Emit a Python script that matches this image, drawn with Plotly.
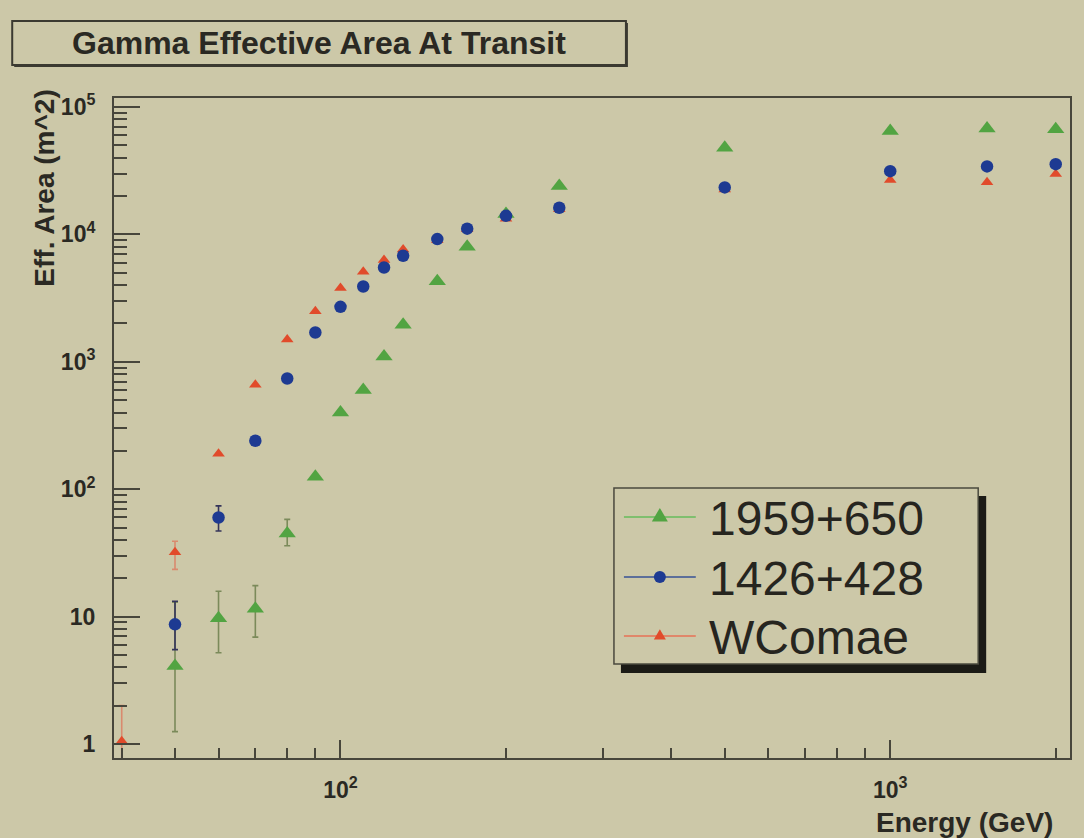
import plotly.graph_objects as go

# ---------------- data ----------------
# 1959+650 (green triangles)
energy_1959 = [50, 60, 70, 80, 90, 100, 110, 120, 130, 150, 170, 200, 250, 500, 1000, 1500, 2000]
area_1959 = [4.1, 9.7, 11.5, 45, 125, 400, 600, 1100, 1950, 4300, 8000, 14500, 24000, 48000, 65000, 68000, 67000]
hi_1959 = [13.0, 15.8, 17.5, 58, None, None, None, None, None, None, None, None, None, None, None, None, None]
lo_1959 = [1.25, 5.2, 6.9, 36, None, None, None, None, None, None, None, None, None, None, None, None, None]

# 1426+428 (blue circles)
energy_1426 = [50, 60, 70, 80, 90, 100, 110, 120, 130, 150, 170, 200, 250, 500, 1000, 1500, 2000]
area_1426 = [8.7, 60, 240, 740, 1700, 2700, 3900, 5500, 6800, 9200, 11100, 14000, 16200, 23400, 31400, 34200, 35600]
hi_1426 = [13.2, 74, None, None, None, None, None, None, None, None, None, None, None, None, None, None, None]
lo_1426 = [5.5, 47, None, None, None, None, None, None, None, None, None, None, None, None, None, None, None]

# WComae (red triangles)
energy_wcomae = [40, 50, 60, 70, 80, 90, 100, 110, 120, 130, 150, 170, 200, 250, 500, 1000, 1500, 2000]
area_wcomae = [1.05, 32, 190, 660, 1500, 2500, 3800, 5100, 6300, 7600, 9000, 11000, 13300, 15800, 22500, 26700, 25700, 29800]
hi_wcomae = [2.0, 39, None, None, None, None, None, None, None, None, None, None, None, None, None, None, None, None]
lo_wcomae = [0.6, 23.5, None, None, None, None, None, None, None, None, None, None, None, None, None, None, None, None]

series_names = ["1959+650", "1426+428", "WComae"]
y_tickvals = [1, 10, 100, 1000, 10000, 100000]
y_ticktext = ["1", "10", "10<sup>2</sup>", "10<sup>3</sup>", "10<sup>4</sup>", "10<sup>5</sup>"]
x_tickvals = [100, 1000]
x_ticktext = ["10<sup>2</sup>", "10<sup>3</sup>"]

# ---------------- style ----------------
W, H = 1084, 838
M_L, M_R, M_T, M_B = 114, 12, 98, 80
PW, PH = W - M_L - M_R, H - M_T - M_B
BG = "#ccc8a8"
INK = "#2a2923"
AXIS = "#47463b"
GREEN = "#52a442"
BLUE = "#1d3a92"
RED = "#e14b2b"
FONT = "Liberation Sans, Arial, sans-serif"


def px(x):
    # page pixel -> paper fraction (paper spans the plot area)
    return (x - M_L) / PW


def py(y):
    return (H - M_B - y) / PH


def plus_minus(vals, hi, lo):
    plus = [None if h is None else h - v for v, h in zip(vals, hi)]
    minus = [None if l is None else v - l for v, l in zip(vals, lo)]
    return plus, minus


fig = go.Figure()

g_plus, g_minus = plus_minus(area_1959, hi_1959, lo_1959)
fig.add_trace(go.Scatter(
    x=energy_1959, y=area_1959, mode="markers", name=series_names[0], showlegend=False,
    marker=dict(symbol="triangle-up", size=15, color=GREEN, line=dict(width=0)),
    error_y=dict(type="data", symmetric=False, array=g_plus, arrayminus=g_minus,
                 color="#7b8a5a", thickness=1.6, width=3),
))

r_plus, r_minus = plus_minus(area_wcomae, hi_wcomae, lo_wcomae)
fig.add_trace(go.Scatter(
    x=energy_wcomae, y=area_wcomae, mode="markers", name=series_names[2], showlegend=False,
    marker=dict(symbol="triangle-up", size=11, color=RED, line=dict(width=0)),
    error_y=dict(type="data", symmetric=False, array=r_plus, arrayminus=r_minus,
                 color="#d98a6e", thickness=1.6, width=3),
))

b_plus, b_minus = plus_minus(area_1426, hi_1426, lo_1426)
fig.add_trace(go.Scatter(
    x=energy_1426, y=area_1426, mode="markers", name=series_names[1], showlegend=False,
    marker=dict(symbol="circle", size=12.5, color=BLUE, line=dict(width=0)),
    error_y=dict(type="data", symmetric=False, array=b_plus, arrayminus=b_minus,
                 color="#34345a", thickness=1.6, width=3),
))

y_minor = [k * 10 ** d for d in range(0, 5) for k in range(2, 10)]
x_minor = [40, 50, 60, 70, 80, 90, 200, 300, 400, 500, 600, 700, 800, 900, 2000]

fig.update_xaxes(
    type="log", range=[1.588, 3.327],
    showline=True, linecolor=AXIS, linewidth=2, mirror=True,
    showgrid=False, zeroline=False,
    ticks="inside", ticklen=18, tickwidth=1.5, tickcolor=AXIS,
    tickmode="array", tickvals=x_tickvals, ticktext=x_ticktext,
    tickfont=dict(family=FONT, size=23, color=INK, weight="bold"),
    ticklabelstandoff=10,
    minor=dict(tickmode="array", tickvals=x_minor, ticks="inside", ticklen=10,
               tickwidth=1.5, tickcolor=AXIS, showgrid=False),
)
fig.update_yaxes(
    type="log", range=[-0.11, 5.071],
    showline=True, linecolor=AXIS, linewidth=2, mirror=True,
    showgrid=False, zeroline=False,
    ticks="inside", ticklen=26, tickwidth=1.5, tickcolor=AXIS,
    tickmode="array", tickvals=y_tickvals, ticktext=y_ticktext,
    tickfont=dict(family=FONT, size=23, color=INK, weight="bold"),
    ticklabelstandoff=12,
    minor=dict(tickmode="array", tickvals=y_minor, ticks="inside", ticklen=13,
               tickwidth=1.5, tickcolor=AXIS, showgrid=False),
)

shapes = []
annotations = []

# title pave
shapes.append(dict(type="rect", xref="paper", yref="paper", layer="above",
                   x0=px(14), x1=px(629), y0=py(23), y1=py(67),
                   line=dict(width=0), fillcolor="#3b3a31"))
shapes.append(dict(type="rect", xref="paper", yref="paper", layer="above",
                   x0=px(12), x1=px(627), y0=py(21), y1=py(65),
                   line=dict(color="#3b3a31", width=2), fillcolor=BG))
annotations.append(dict(text="Gamma Effective Area At Transit", xref="paper", yref="paper",
                        x=px(319), y=py(43), xanchor="center", yanchor="middle", showarrow=False,
                        font=dict(family=FONT, size=32, color=INK, weight="bold")))

# axis titles
annotations.append(dict(text="Eff. Area (m^2)", xref="paper", yref="paper", textangle=-90,
                        x=px(44), y=py(88), xanchor="center", yanchor="top", showarrow=False,
                        font=dict(family=FONT, size=28, color=INK, weight="bold")))
annotations.append(dict(text="Energy (GeV)", xref="paper", yref="paper",
                        x=px(1057), y=py(822), xanchor="right", yanchor="middle", showarrow=False,
                        font=dict(family=FONT, size=28, color=INK, weight="bold")))

# legend pave with shadow
shapes.append(dict(type="rect", xref="paper", yref="paper", layer="above",
                   x0=px(622), x1=px(988), y0=py(496), y1=py(673),
                   line=dict(width=0), fillcolor="#1b1b16"))
shapes.append(dict(type="rect", xref="paper", yref="paper", layer="above",
                   x0=px(615), x1=px(980), y0=py(488), y1=py(664),
                   line=dict(color="#4a493e", width=1.5), fillcolor=BG))

legend_rows = [
    (series_names[0], 517, GREEN, "#7fbf6e", "tri", 8),
    (series_names[1], 577, BLUE, "#5c6f9a", "circ", 6),
    (series_names[2], 636, RED, "#e0876a", "tri", 6),
]
for label, yy, col, lcol, kind, s in legend_rows:
    shapes.append(dict(type="line", xref="paper", yref="paper", layer="above",
                       x0=px(625), x1=px(697), y0=py(yy), y1=py(yy),
                       line=dict(color=lcol, width=1.8)))
    if kind == "circ":
        shapes.append(dict(type="circle", xref="paper", yref="paper", layer="above",
                           xsizemode="pixel", ysizemode="pixel",
                           xanchor=px(661), yanchor=py(yy),
                           x0=-s, x1=s, y0=-s, y1=s,
                           line=dict(width=0), fillcolor=col))
    else:
        h = s * 1.7
        path = f"M {-s} {-h / 3:.2f} L {s} {-h / 3:.2f} L 0 {2 * h / 3:.2f} Z"
        shapes.append(dict(type="path", xref="paper", yref="paper", layer="above",
                           xsizemode="pixel", ysizemode="pixel",
                           xanchor=px(661), yanchor=py(yy), path=path,
                           line=dict(width=0), fillcolor=col))
    annotations.append(dict(text=label, xref="paper", yref="paper",
                            x=px(708), y=py(yy + 1), xanchor="left", yanchor="middle",
                            showarrow=False,
                            font=dict(family=FONT, size=48, color="#26251f")))

fig.update_layout(
    width=W, height=H, autosize=False,
    margin=dict(l=M_L, r=M_R, t=M_T, b=M_B),
    paper_bgcolor=BG, plot_bgcolor=BG,
    showlegend=False,
    shapes=shapes, annotations=annotations,
    font=dict(family=FONT, color=INK),
)

fig.write_html("out.html")
